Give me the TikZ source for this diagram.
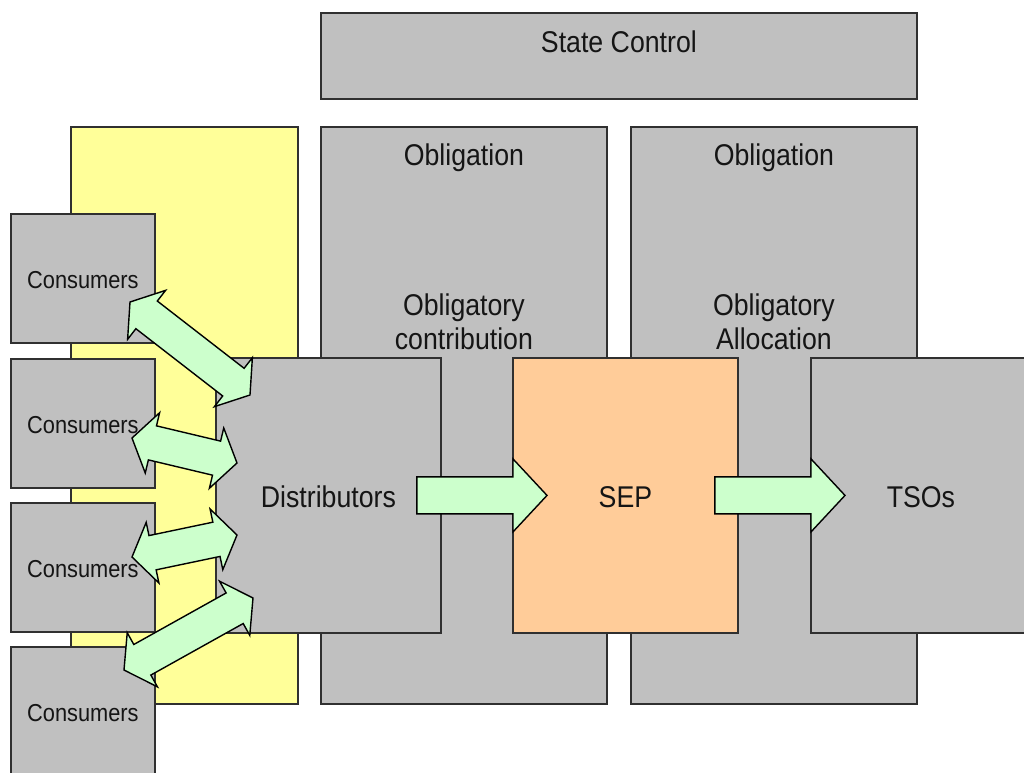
\documentclass[tikz,border=0pt]{standalone}
\usepackage{fontspec}
\setmainfont{Liberation Sans}[FakeStretch=0.89]
\usetikzlibrary{calc}
\definecolor{boxgray}{HTML}{C0C0C0}
\definecolor{edgegray}{HTML}{303030}
\definecolor{yel}{HTML}{FFFF99}
\definecolor{sepor}{HTML}{FFCC99}
\definecolor{arrgreen}{HTML}{CCFFCC}
\definecolor{txt}{HTML}{151515}
% double block arrow: #1 start, #2 end, #3 shaft half width, #4 head half width, #5 head length
\newcommand\dblblockarrow[5]{%
  \path (#1); \pgfgetlastxy{\ax}{\ay}%
  \path (#2); \pgfgetlastxy{\bx}{\by}%
  \pgfmathsetmacro\arrang{atan2(\by-\ay,\bx-\ax)}%
  \pgfmathsetmacro\arrlen{veclen(\bx-\ax,\by-\ay)}%
  \begin{scope}[shift={(#1)}, rotate=\arrang]
    \draw[blockarr] (0,0) -- (#5,#4) -- (#5,#3) -- (\arrlen-#5,#3) -- (\arrlen-#5,#4) -- (\arrlen,0)
      -- (\arrlen-#5,-#4) -- (\arrlen-#5,-#3) -- (#5,-#3) -- (#5,-#4) -- cycle;
  \end{scope}}
% single block arrow: #1 start, #2 end, #3 shaft half width, #4 head half width, #5 head length
\newcommand\sglblockarrow[5]{%
  \path (#1); \pgfgetlastxy{\ax}{\ay}%
  \path (#2); \pgfgetlastxy{\bx}{\by}%
  \pgfmathsetmacro\arrang{atan2(\by-\ay,\bx-\ax)}%
  \pgfmathsetmacro\arrlen{veclen(\bx-\ax,\by-\ay)}%
  \begin{scope}[shift={(#1)}, rotate=\arrang]
    \draw[blockarr] (0,-#3) -- (\arrlen-#5,-#3) -- (\arrlen-#5,-#4) -- (\arrlen,0)
      -- (\arrlen-#5,#4) -- (\arrlen-#5,#3) -- (0,#3) -- cycle;
  \end{scope}}
\begin{document}
\begin{tikzpicture}[x=1pt,y=-1pt,
  box/.style={rectangle, draw=edgegray, line width=1.8pt, fill=boxgray, inner sep=0pt, anchor=north west},
  big/.style={font=\fontsize{30}{34}\selectfont, text=txt, inner sep=0pt},
  small/.style={font=\fontsize{24.5}{28}\selectfont, text=txt, inner sep=0pt},
  blockarr/.style={draw=black, fill=arrgreen, line width=1.4pt, line join=miter}]
\clip (0,0) rectangle (1024,772);
% background boxes
\node[box, fill=yel, minimum width=227pt, minimum height=577pt] (yb) at (70,126) {};
\node[box, minimum width=286pt, minimum height=577pt] (ob1) at (320,126) {};
\node[box, minimum width=286pt, minimum height=577pt] (ob2) at (630,126) {};
\node[box, minimum width=596pt, minimum height=86pt] (sc) at (320,12) {};
\node[big, anchor=base] (sct) at ($(sc.north)+(0,40)$) {State Control};
\node[big, anchor=base] (ob1t) at ($(ob1.north)+(0,39)$) {Obligation};
\node[big, anchor=base] (ob2t) at ($(ob2.north)+(0,39)$) {Obligation};
\node[big, align=center] (ob1s) at ($(ob1.north)+(0,196)$) {Obligatory\\contribution};
\node[big, align=center] (ob2s) at ($(ob2.north)+(0,196)$) {Obligatory\\Allocation};
% consumers
\foreach \i/\y in {1/213,2/358,3/502,4/646}{
  \node[box, minimum width=144pt, minimum height=129pt] (c\i) at (10,\y) {};
  \node[small, anchor=base] (c\i t) at ($(c\i.north)+(0,75)$) {Consumers};
}
% main boxes
\node[box, minimum width=225pt, minimum height=275pt] (dist) at (215,357) {};
\node[big, anchor=base] (distt) at ($(dist.north)+(0,150)$) {Distributors};
\node[box, fill=sepor, minimum width=225pt, minimum height=275pt] (sep) at (512,357) {};
\node[big, anchor=base] (sept) at ($(sep.north)+(0,150)$) {SEP};
\node[box, minimum width=220pt, minimum height=275pt] (tso) at (810,357) {};
\node[big, anchor=base] (tsot) at ($(tso.north)+(0,150)$) {TSOs};
% double arrows consumers <-> distributors
\coordinate (a1s) at (130,302); \coordinate (a1e) at (250,395);
\coordinate (a2s) at (132,438); \coordinate (a2e) at (237,463);
\coordinate (a3s) at (132,557); \coordinate (a3e) at (237,535);
\coordinate (a4s) at (124,670); \coordinate (a4e) at (253,598);
\dblblockarrow{a1s}{a1e}{17.5}{31}{21}
\dblblockarrow{a2s}{a2e}{17.5}{31}{21}
\dblblockarrow{a3s}{a3e}{17.5}{31}{21}
\dblblockarrow{a4s}{a4e}{17.5}{31}{21}
% block arrows
\coordinate (b1s) at ($(dist.east)+(-25,0)$);
\coordinate (b1e) at ($(sep.west)+(35,0)$);
\coordinate (b2s) at ($(sep.east)+(-24,0)$);
\coordinate (b2e) at ($(tso.west)+(35,0)$);
\sglblockarrow{b1s}{b1e}{18.5}{36.5}{34}
\sglblockarrow{b2s}{b2e}{18.5}{36.5}{34}
\end{tikzpicture}
\end{document}
